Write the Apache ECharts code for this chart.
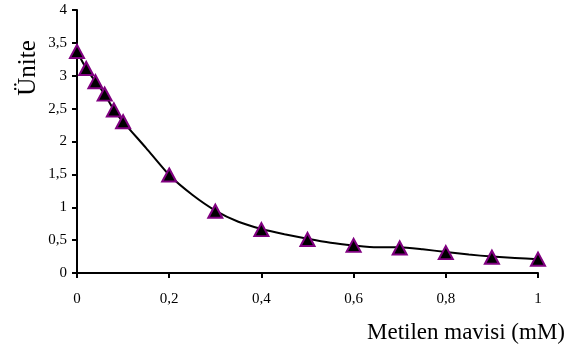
<!DOCTYPE html>
<html><head><meta charset="utf-8">
<script src="https://cdn.jsdelivr.net/npm/echarts@6/dist/echarts.min.js"></script>
<style>html,body{margin:0;padding:0;background:#fff}#c{width:579px;height:349px}</style>
</head><body><div id="c"></div>
<script>
const markerX = [0, 0.02, 0.04, 0.06, 0.08, 0.1, 0.2, 0.3, 0.4, 0.5, 0.6, 0.7, 0.8, 0.9, 1];
const markerY = [3.37, 3.11, 2.91, 2.72, 2.48, 2.30, 1.49, 0.94, 0.66, 0.51, 0.42, 0.38, 0.31, 0.24, 0.21];
const curveX = [0, 0.02, 0.04, 0.06, 0.08, 0.1, 0.15, 0.2, 0.25, 0.3, 0.35, 0.4, 0.45, 0.5, 0.55, 0.6, 0.65, 0.7, 0.75, 0.8, 0.85, 0.9, 0.95, 1];
const curveY = [3.37, 3.11, 2.91, 2.72, 2.48, 2.30, 1.90, 1.49, 1.19, 0.95, 0.78, 0.67, 0.59, 0.52, 0.46, 0.42, 0.39, 0.39, 0.36, 0.32, 0.28, 0.25, 0.23, 0.21];
const yTitle = 'Ünite';
const xTitle = 'Metilen mavisi (mM)';

const font = '"Liberation Serif", "Times New Roman", serif';
const chart = echarts.init(document.getElementById('c'));
const fmt = v => String(+v.toFixed(2)).replace('.', ',');
chart.setOption({
  animation: false,
  backgroundColor: '#fff',
  grid: { left: 77, right: 41, top: 10, bottom: 76 },
  xAxis: {
    type: 'value', min: 0, max: 1, interval: 0.2,
    axisLine: { lineStyle: { color: '#000', width: 2 } },
    axisTick: { show: true, length: 5, lineStyle: { color: '#000', width: 2 } },
    axisLabel: { color: '#000', fontFamily: font, fontSize: 15, margin: 19, formatter: fmt },
    splitLine: { show: false }
  },
  yAxis: {
    type: 'value', min: 0, max: 4, interval: 0.5,
    axisLine: { show: true, lineStyle: { color: '#000', width: 2 } },
    axisTick: { show: true, length: 5, lineStyle: { color: '#000', width: 2 } },
    axisLabel: { color: '#000', fontFamily: font, fontSize: 15, margin: 10, formatter: fmt },
    splitLine: { show: false }
  },
  graphic: [
    { type: 'text', x: 28, y: 68, rotation: Math.PI / 2,
      style: { text: yTitle, font: '25px ' + font, fill: '#000', align: 'center', verticalAlign: 'middle' } },
    { type: 'text', x: 565, y: 333,
      style: { text: xTitle, font: '23px ' + font, fill: '#000', align: 'right', verticalAlign: 'middle' } }
  ],
  series: [
    { type: 'line', data: curveX.map((x, i) => [x, curveY[i]]), showSymbol: false, symbol: 'none',
      lineStyle: { color: '#000', width: 2 }, smooth: 0.2, z: 2 },
    { type: 'scatter', data: markerX.map((x, i) => [x, markerY[i]]), symbol: 'triangle', symbolSize: [14, 13],
      itemStyle: { color: '#000', borderColor: '#800080', borderWidth: 2, opacity: 1 }, z: 3 }
  ]
});
</script></body></html>
